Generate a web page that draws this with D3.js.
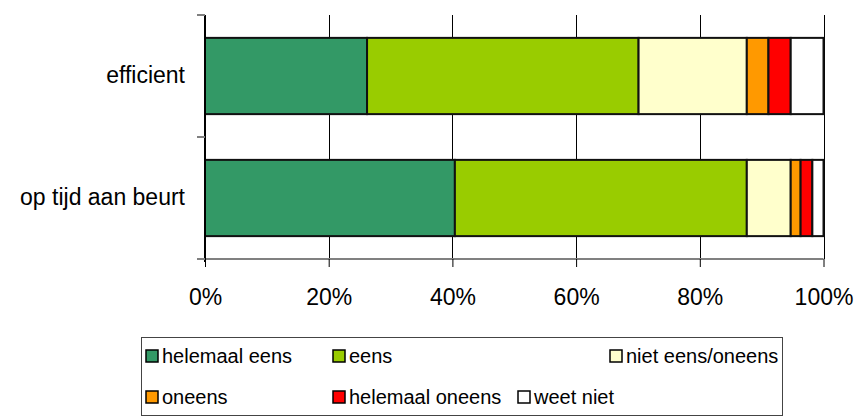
<!DOCTYPE html>
<html><head><meta charset="utf-8">
<script src="https://cdn.jsdelivr.net/npm/d3@7"></script>
<style>body{margin:0;background:#fff}svg{display:block}text{font-family:"Liberation Sans",Arial,sans-serif;fill:#000}</style>
</head><body><svg id="c" width="856" height="419"></svg>
<script>
const categories = ["efficient", "op tijd aan beurt"];
const seriesNames = ["helemaal eens", "eens", "niet eens/oneens", "oneens", "helemaal oneens", "weet niet"];
const seriesColors = ["#339966", "#99CC00", "#FFFFCC", "#FF9900", "#FF0000", "#FFFFFF"];
const helemaalEens = [26.2, 40.4];
const eens = [43.9, 47.2];
const nietEensOneens = [17.5, 7.1];
const oneens = [3.5, 1.6];
const helemaalOneens = [3.6, 1.9];
const weetNiet = [5.3, 1.8];
const tickValues = [0, 20, 40, 60, 80, 100];

const seriesValues = [helemaalEens, eens, nietEensOneens, oneens, helemaalOneens, weetNiet];
const rows = categories.map((c, i) => {
  const r = {cat: c};
  seriesNames.forEach((s, j) => r[s] = seriesValues[j][i]);
  return r;
});
const stacked = d3.stack().keys(seriesNames)(rows);

const svg = d3.select("#c");
const x = d3.scaleLinear().domain([0, 100]).range([205, 823.5]);
const y = d3.scaleBand().domain(categories).range([15, 259]).paddingInner(0.375).paddingOuter(0.1875);
const axisFont = 23, legendFont = 20;

// gridlines
svg.append("g").selectAll("line").data(tickValues.slice(1)).join("line")
  .attr("x1", d => Math.round(x(d)) + 0.5).attr("x2", d => Math.round(x(d)) + 0.5)
  .attr("y1", 15).attr("y2", 259).attr("stroke", "#000").attr("stroke-width", 1);

// bars
svg.append("g").selectAll("g").data(stacked).join("g")
  .attr("fill", (d, i) => seriesColors[i])
  .selectAll("rect").data(d => d).join("rect")
  .attr("x", d => x(d[0])).attr("width", d => x(d[1]) - x(d[0]))
  .attr("y", d => y(d.data.cat)).attr("height", y.bandwidth())
  .attr("stroke", "#111").attr("stroke-width", 2);

// x axis
const xAxis = svg.append("g").attr("transform", "translate(0,259)")
  .call(d3.axisBottom(x).tickValues(tickValues).tickFormat(d => d + "%").tickSize(8).tickPadding(22));
xAxis.select(".domain").attr("stroke", "#808080").attr("stroke-width", 2).attr("d", `M197,0H${x(100)}`);
xAxis.selectAll(".tick line").attr("stroke", "#000");
xAxis.selectAll("text").style("font-size", axisFont + "px").style("font-family", "Liberation Sans, Arial, sans-serif");

// y axis
const yAxis = svg.append("g").attr("transform", "translate(205,0)")
  .call(d3.axisLeft(y).tickSize(0).tickPadding(20));
yAxis.select(".domain").attr("stroke", "#000").attr("stroke-width", 2).attr("d", "M0,15V262");
yAxis.selectAll("text").style("font-size", axisFont + "px").style("font-family", "Liberation Sans, Arial, sans-serif");
svg.append("g").selectAll("line").data([15, 137, 259]).join("line")
  .attr("x1", 197).attr("x2", 205).attr("y1", d => d).attr("y2", d => d)
  .attr("stroke", "#808080").attr("stroke-width", 2);

// legend (three entries per row)
const lg = svg.append("g");
lg.append("rect").attr("x", 141.5).attr("y", 337.5).attr("width", 641).attr("height", 78)
  .attr("fill", "#fff").attr("stroke", "#444").attr("stroke-width", 1);
const rowY = [356, 397];
const rowStarts = [[146, 333, 610], [146, 333, 518]];
seriesNames.forEach((s, i) => {
  const r = Math.floor(i / 3), c = i % 3;
  const cx = rowStarts[r][c], cy = rowY[r];
  lg.append("rect").attr("x", cx).attr("y", cy - 6).attr("width", 12).attr("height", 12)
    .attr("fill", seriesColors[i]).attr("stroke", "#000").attr("stroke-width", 1.5);
  lg.append("text").attr("x", cx + 16).attr("y", cy).attr("dy", "0.35em")
    .style("font-size", legendFont + "px").text(s);
});
</script></body></html>
